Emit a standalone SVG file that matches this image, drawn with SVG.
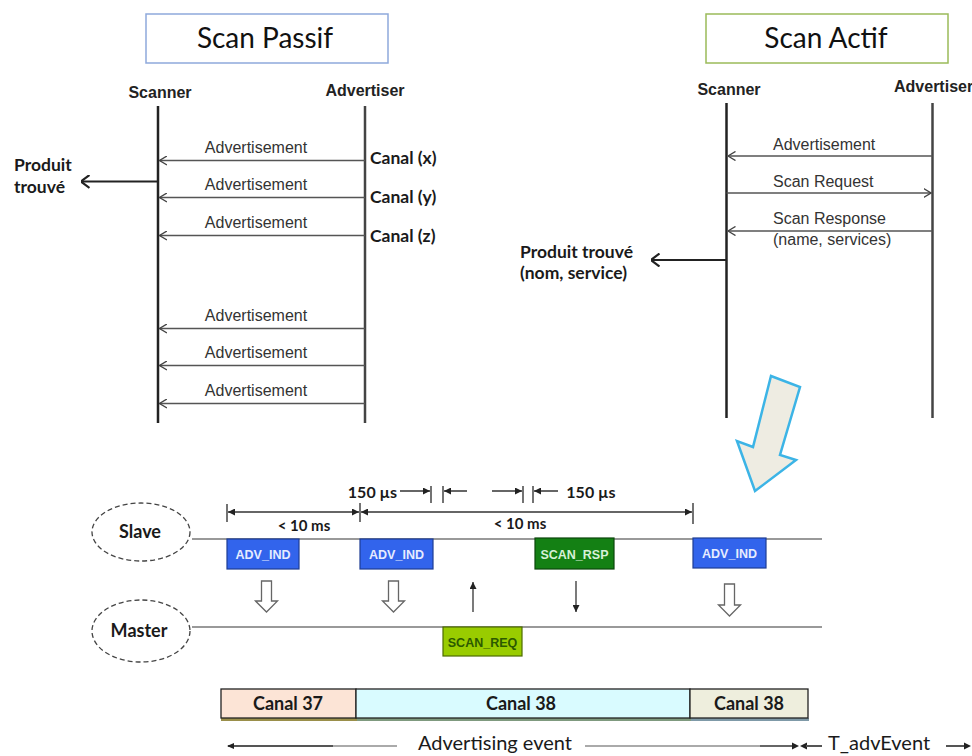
<svg xmlns="http://www.w3.org/2000/svg" width="972" height="756" viewBox="0 0 972 756">
<defs>
<style>
.title{font-family:Lato,"Open Sans",sans-serif;font-size:28px;fill:#111;text-anchor:middle}
.actor{font-family:"Liberation Sans",Arial,sans-serif;font-size:16px;font-weight:bold;fill:#222;text-anchor:middle}
.msg{font-family:"Liberation Sans",Arial,sans-serif;font-size:16px;fill:#333}
.cal{font-family:Lato,"Open Sans",sans-serif;font-weight:bold;font-size:17.5px;fill:#1a1a1a}
.life{stroke:#222;stroke-width:2.5}
.life2{stroke:#444;stroke-width:2.5}
.m{stroke:#555;stroke-width:1.6;fill:none}
.found{stroke:#222;stroke-width:2.2;fill:none}
.lbl{font-family:Lato,"Open Sans",sans-serif;font-weight:bold;fill:#1a1a1a;text-anchor:middle}
.pkt{font-family:"Liberation Sans",Arial,sans-serif;font-weight:bold;font-size:12.5px;text-anchor:middle}
.dim{stroke:#333;stroke-width:1.5;fill:none}
.tick{stroke:#444;stroke-width:1.5}
.hol{fill:#fff;stroke:#666;stroke-width:1.3}
.ell{fill:none;stroke:#444;stroke-width:1.3;stroke-dasharray:5 3}
.tl{stroke:#999;stroke-width:2}
.chan{stroke:#222;stroke-width:1.3}
.ctext{font-family:Lato,"Open Sans",sans-serif;font-weight:bold;font-size:18px;fill:#1a1a1a;text-anchor:middle}
.ev{font-family:Lato,"Open Sans",sans-serif;font-size:20px;fill:#1a1a1a}
</style>
<marker id="chev" viewBox="0 0 8 10" refX="7.5" refY="5" markerWidth="8" markerHeight="10" markerUnits="userSpaceOnUse" orient="auto">
<path d="M0,0.5 L7.5,5 L0,9.5" fill="none" stroke="#444" stroke-width="1.4"/>
</marker>
<marker id="chevBig" viewBox="0 0 9 14" refX="8.5" refY="7" markerWidth="9" markerHeight="14" markerUnits="userSpaceOnUse" orient="auto">
<path d="M0,0.5 L8.5,7 L0,13.5" fill="none" stroke="#222" stroke-width="2.2"/>
</marker>
<marker id="tri" viewBox="0 0 7 7" refX="7" refY="3.5" markerWidth="7" markerHeight="7" markerUnits="userSpaceOnUse" orient="auto">
<path d="M0,0 L7,3.5 L0,7 z" fill="#222"/>
</marker>
</defs>
<rect width="972" height="756" fill="#fff"/>

<!-- Scan Passif -->
<g id="title-passif">
<rect x="146" y="14" width="242" height="49" fill="#fff" stroke="#8ea9db" stroke-width="1.5"/>
<text class="title" x="265" y="48">Scan Passif</text>
</g>
<g id="passif-scanner">
<text class="actor" x="160" y="98">Scanner</text>
<line class="life" x1="158" y1="106" x2="158" y2="423"/>
</g>
<g id="passif-advertiser">
<text class="actor" x="365" y="96">Advertiser</text>
<line class="life2" x1="365" y1="106" x2="365" y2="423"/>
</g>
<g id="passif-found">
<text class="cal" x="14" y="171">Produit</text>
<text class="cal" x="14" y="193">trouvé</text>
</g>
<g id="passif-labels">
<text class="msg" x="256" y="153" text-anchor="middle">Advertisement</text>
<text class="msg" x="256" y="190" text-anchor="middle">Advertisement</text>
<text class="msg" x="256" y="228" text-anchor="middle">Advertisement</text>
<text class="msg" x="256" y="321" text-anchor="middle">Advertisement</text>
<text class="msg" x="256" y="358" text-anchor="middle">Advertisement</text>
<text class="msg" x="256" y="396" text-anchor="middle">Advertisement</text>
<text class="cal" x="370" y="164">Canal (x)</text>
<text class="cal" x="370" y="203">Canal (y)</text>
<text class="cal" x="370" y="242">Canal (z)</text>
</g>

<!-- Scan Actif -->
<g id="title-actif">
<rect x="706" y="14" width="242" height="49" fill="#fff" stroke="#9bbb59" stroke-width="1.5"/>
<text class="title" x="826" y="48">Scan Actif</text>
</g>
<g id="actif-scanner">
<text class="actor" x="729" y="95">Scanner</text>
<line class="life" x1="726.5" y1="103" x2="726.5" y2="418"/>
</g>
<g id="actif-advertiser">
<text class="actor" x="894" y="92" style="text-anchor:start">Advertiser</text>
<line class="life2" x1="932.5" y1="103" x2="932.5" y2="418"/>
</g>
<g id="actif-labels">
<text class="msg" x="773" y="150">Advertisement</text>
<text class="msg" x="773" y="187">Scan Request</text>
<text class="msg" x="773" y="224">Scan Response</text>
<text class="msg" x="773" y="245">(name, services)</text>
</g>
<g id="actif-found">
<text class="cal" x="520" y="258">Produit trouvé</text>
<text class="cal" x="520" y="279">(nom, service)</text>
</g>

<g id="connectors">
<line class="m" x1="365" y1="160.5" x2="159.5" y2="160.5" marker-end="url(#chev)"/>
<line class="m" x1="365" y1="197.5" x2="159.5" y2="197.5" marker-end="url(#chev)"/>
<line class="m" x1="365" y1="235.5" x2="159.5" y2="235.5" marker-end="url(#chev)"/>
<line class="m" x1="365" y1="328.5" x2="159.5" y2="328.5" marker-end="url(#chev)"/>
<line class="m" x1="365" y1="365.5" x2="159.5" y2="365.5" marker-end="url(#chev)"/>
<line class="m" x1="365" y1="403.5" x2="159.5" y2="403.5" marker-end="url(#chev)"/>
<line class="found" x1="158" y1="181.5" x2="81" y2="181.5" marker-end="url(#chevBig)"/>
<line class="m" x1="932.5" y1="156" x2="728" y2="156" marker-end="url(#chev)"/>
<line class="m" x1="726.5" y1="193" x2="931" y2="193" marker-end="url(#chev)"/>
<line class="m" x1="932.5" y1="231" x2="728" y2="231" marker-end="url(#chev)"/>
<line class="found" x1="726.5" y1="260" x2="651" y2="260" marker-end="url(#chevBig)"/>
</g>

<!-- big transition arrow -->
<g id="transition-arrow">
<polygon points="771,376 800,387 780,455 796,460 755,491 737,441 753,447" fill="#eeece2" stroke="#3cb4e6" stroke-width="2.5" stroke-linejoin="miter"/>
</g>

<!-- Timing diagram -->
<g id="slave">
<ellipse class="ell" cx="141" cy="532" rx="49" ry="29"/>
<text class="lbl" x="140" y="538" font-size="18">Slave</text>
<line class="tl" x1="192" y1="539" x2="822" y2="539"/>
</g>
<g id="master">
<ellipse class="ell" cx="141" cy="631" rx="49" ry="31"/>
<text class="lbl" x="139" y="637" font-size="18">Master</text>
<line class="tl" x1="192" y1="627" x2="822" y2="627"/>
</g>
<g id="adv-ind-1">
<rect x="227" y="539" width="72" height="30" fill="#3264ec" stroke="#1d3c94" stroke-width="1.2"/>
<text class="pkt" x="263" y="558.5" fill="#e6ecff">ADV_IND</text>
</g>
<g id="adv-ind-2">
<rect x="360" y="539" width="73" height="30" fill="#3264ec" stroke="#1d3c94" stroke-width="1.2"/>
<text class="pkt" x="396.5" y="558.5" fill="#e6ecff">ADV_IND</text>
</g>
<g id="scan-rsp">
<rect x="535" y="538" width="79" height="31" fill="#148014" stroke="#0b470b" stroke-width="1.2"/>
<text class="pkt" x="574.5" y="558.5" fill="#d8f0d8">SCAN_RSP</text>
</g>
<g id="adv-ind-3">
<rect x="693" y="538" width="73" height="30" fill="#3264ec" stroke="#1d3c94" stroke-width="1.2"/>
<text class="pkt" x="729.5" y="557.5" fill="#e6ecff">ADV_IND</text>
</g>
<g id="scan-req">
<rect x="443" y="627" width="79" height="29" fill="#99cc00" stroke="#4d6b00" stroke-width="1.2"/>
<text class="pkt" x="482.5" y="646.5" fill="#2c5a00">SCAN_REQ</text>
</g>

<g id="timing-arrows">
<polygon class="hol" points="261.5,581 271.5,581 271.5,601 277.5,601 266.5,612 255.5,601 261.5,601"/>
<polygon class="hol" points="388.5,581 398.5,581 398.5,601 404.5,601 393.5,612 382.5,601 388.5,601"/>
<polygon class="hol" points="724.5,584 734.5,584 734.5,605 740.5,605 729.5,616 718.5,605 724.5,605"/>
<line x1="473" y1="612" x2="473" y2="582" stroke="#333" stroke-width="1.3" marker-end="url(#tri)"/>
<line x1="576" y1="581" x2="576" y2="612" stroke="#333" stroke-width="1.3" marker-end="url(#tri)"/>
</g>

<g id="dimensions">
<line class="tick" x1="227" y1="504" x2="227" y2="522"/>
<line class="tick" x1="360" y1="503" x2="360" y2="522"/>
<line class="tick" x1="693" y1="503" x2="693" y2="524"/>
<line class="dim" x1="300" y1="512" x2="228" y2="512" marker-end="url(#tri)"/>
<line class="dim" x1="300" y1="512" x2="359" y2="512" marker-end="url(#tri)"/>
<line class="dim" x1="500" y1="512" x2="361" y2="512" marker-end="url(#tri)"/>
<line class="dim" x1="500" y1="512" x2="692" y2="512" marker-end="url(#tri)"/>
<text class="lbl" x="304" y="531" font-size="15">&lt; 10 ms</text>
<text class="lbl" x="520" y="529" font-size="15">&lt; 10 ms</text>

<line class="tick" x1="431" y1="486" x2="431" y2="503"/>
<line class="tick" x1="443" y1="486" x2="443" y2="503"/>
<line class="tick" x1="523" y1="486" x2="523" y2="503"/>
<line class="tick" x1="533" y1="486" x2="533" y2="503"/>
<line class="dim" x1="400" y1="491" x2="430" y2="491" marker-end="url(#tri)"/>
<line class="dim" x1="467" y1="491" x2="444" y2="491" marker-end="url(#tri)"/>
<line class="dim" x1="492" y1="491" x2="522" y2="491" marker-end="url(#tri)"/>
<line class="dim" x1="558" y1="491" x2="534" y2="491" marker-end="url(#tri)"/>
<text class="lbl" x="372.5" y="498" font-size="16">150 µs</text>
<text class="lbl" x="591" y="498" font-size="16">150 µs</text>
</g>

<!-- Channel bar -->
<g id="canal-37">
<rect x="221" y="718" width="136" height="3" fill="#9a8f4a"/>
<rect class="chan" x="221" y="689" width="135" height="29" fill="#fce4d6"/>
<text class="ctext" x="288" y="710">Canal 37</text>
</g>
<g id="canal-38-a">
<rect x="357" y="718" width="334" height="3" fill="#7f9a7f"/>
<rect class="chan" x="356" y="689" width="334" height="29" fill="#d9fbff"/>
<text class="ctext" x="521" y="710">Canal 38</text>
</g>
<g id="canal-38-b">
<rect x="691" y="718" width="118" height="3" fill="#7f9aa8"/>
<rect class="chan" x="690" y="689" width="118" height="29" fill="#eeeedd"/>
<text class="ctext" x="749" y="710">Canal 38</text>
</g>

<g id="event-axis">
<line x1="228" y1="746" x2="333" y2="746" stroke="#555" stroke-width="2"/>
<line x1="333" y1="746" x2="397" y2="746" stroke="#aaa" stroke-width="2"/>
<path d="M227,746 l7,-3 v6 z" fill="#222"/>
<line x1="585" y1="746" x2="760" y2="746" stroke="#aaa" stroke-width="2"/>
<line x1="760" y1="746" x2="792" y2="746" stroke="#666" stroke-width="2"/>
<path d="M799,746 l-7,-3.5 v7 z" fill="#222"/>
<path d="M800,746 l7,-3.5 v7 z" fill="#222"/>
<line x1="806" y1="746" x2="822" y2="746" stroke="#555" stroke-width="2"/>
<line x1="946" y1="746" x2="964" y2="746" stroke="#555" stroke-width="2"/>
<path d="M971,746 l-7,-3.5 v7 z" fill="#222"/>
<text class="ev" x="495" y="750" text-anchor="middle">Advertising event</text>
<text class="ev" x="828" y="750">T_advEvent</text>
</g>
</svg>
